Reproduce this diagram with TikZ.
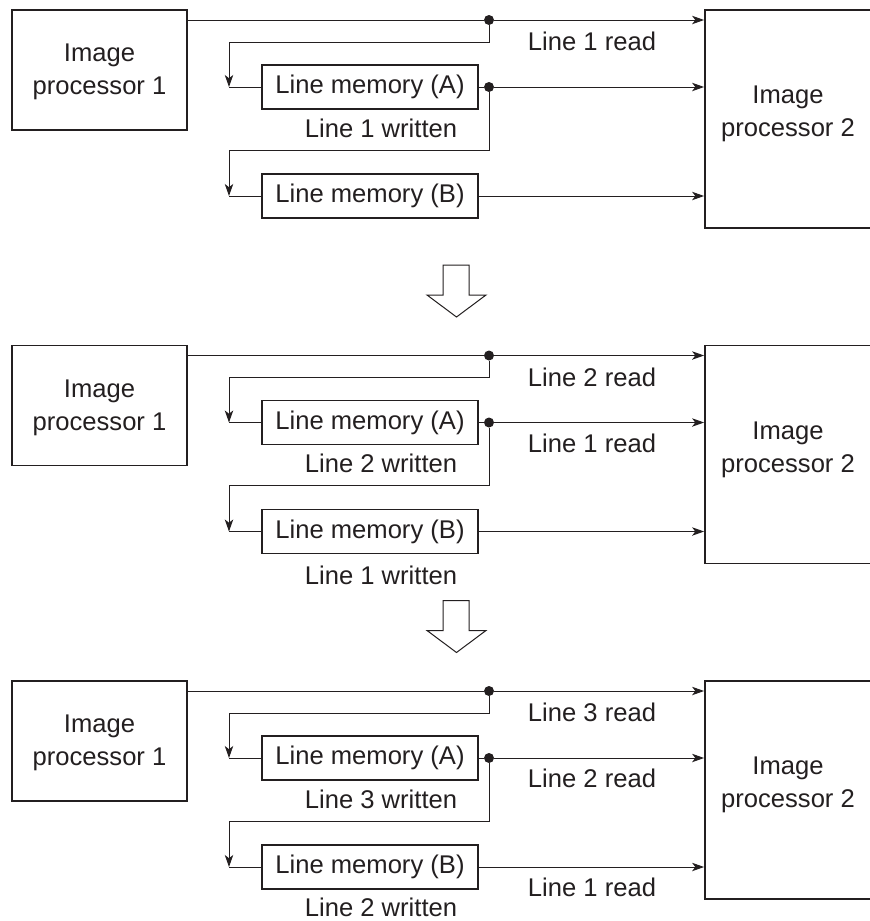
\documentclass[tikz,border=0pt]{standalone}
\usepackage{fontspec}
\setmainfont{Liberation Sans}
\usetikzlibrary{arrows.meta,calc}
\definecolor{ink}{HTML}{231F20}
\tikzset{
  unit/.style={draw=ink, line width=0.9pt, align=center, inner sep=0pt, text=ink},
  wire/.style={draw=ink, line width=0.5pt},
  joint/.style={circle, fill=ink, inner sep=0pt, minimum size=5pt},
  tag/.style={text=ink, inner sep=0pt, align=center}
}

\begin{document}
\begin{tikzpicture}[x=0.5pt, y=-0.5pt, font=\fontsize{12.8}{16.5}\selectfont, >={Stealth[length=6pt,width=4.2pt,inset=1.6pt]}]
\useasboundingbox (0,0) rectangle (870,921);
\clip (0,0) rectangle (870,921);
\fill[white] (0,0) rectangle (870,921);
% three states of the two line memories
\foreach \k/\dy in {1/0, 2/335.5, 3/671}{
  \begin{scope}[shift={(0,\dy)}]
    \node[unit, minimum width=87.5pt, minimum height=60pt] (ipa\k) at (99.5,70) {};
    \node[tag] (ipat\k) at (99.5,72) {Image\\processor 1};
    \node[unit, minimum width=83pt, minimum height=109pt] (ipb\k) at (788,119) {};
    \node[tag] (ipbt\k) at (788,114) {Image\\processor 2};
    \node[unit, minimum width=108pt, minimum height=22pt] (mema\k) at (370,87) {Line memory (A)};
    \node[unit, minimum width=108pt, minimum height=22pt] (memb\k) at (370,196) {Line memory (B)};
    \node[joint] (ja\k) at (489,20) {};
    \node[joint] (jb\k) at (489,87) {};
    \coordinate (ua\k) at (229,42);  \coordinate (ta\k) at (229,87);
    \coordinate (ub\k) at (229,150); \coordinate (tb\k) at (229,196);
    \draw[wire] (ipa\k.east |- ja\k) -- (ja\k);
    \draw[wire, ->] (ja\k) -- (ja\k -| ipb\k.west);
    \draw[wire, ->] (ja\k) |- (ua\k) -- (ta\k);
    \draw[wire] (ta\k) -- (mema\k);
    \draw[wire] (mema\k) -- (jb\k);
    \draw[wire, ->] (jb\k) -- (jb\k -| ipb\k.west);
    \draw[wire, ->] (jb\k) |- (ub\k) -- (tb\k);
    \draw[wire] (tb\k) -- (memb\k);
    \draw[wire, ->] (memb\k) -- (memb\k -| ipb\k.west);
  \end{scope}
}
% hollow arrows between the states
\foreach \dy in {0, 335.5}{
  \draw[ink, line width=0.5pt, fill=white, line join=miter, shift={(0,\dy)}]
    (443,265) -- (469,265) -- (469,295) -- (486,295) -- (456.5,317) -- (427,295) -- (443,295) -- cycle;
}
% read and written labels
\foreach \y/\n [count=\i] in {41.5/1, 377/2, 443.5/1, 712.5/3, 778.5/2, 887.5/1}
  \node[tag] (rd\i) at (592,\y) {Line \n\ read};
\foreach \y/\n [count=\i] in {128/1, 463.5/2, 575.5/1, 799/3, 907/2}
  \node[tag] (wr\i) at (381,\y) {Line \n\ written};
\end{tikzpicture}
\end{document}
